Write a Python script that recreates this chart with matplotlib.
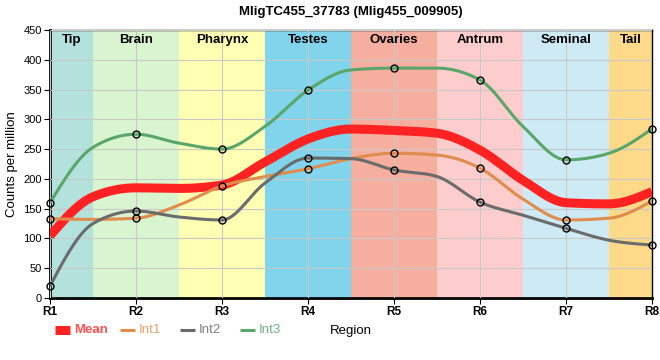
import numpy as np
import matplotlib
matplotlib.use('Agg')
import matplotlib.pyplot as plt
from matplotlib.lines import Line2D

plt.rcParams['font.family'] = ['Liberation Sans', 'DejaVu Sans']

regions = ['R1', 'R2', 'R3', 'R4', 'R5', 'R6', 'R7', 'R8']
int1 = [133, 134, 188, 217, 243, 218, 131, 163]
int2 = [20, 146, 131, 235, 215, 161, 117, 89]
int3 = [160, 275, 250, 349, 386, 366, 232, 284]
# curve values read at the tissue boundaries (between R1|R2, R2|R3, ...)
int1_edge = [132, 156, 204, 234, 240, 166, 134]
int2_edge = [125, 136, 193, 234, 204, 139, 97]
int3_edge = [253, 260, 288, 383, 386, 288, 243]
mean = [(a + b + c) / 3 for a, b, c in zip(int1, int2, int3)]
mean_edge = [(a + b + c) / 3 for a, b, c in zip(int1_edge, int2_edge, int3_edge)]

tissues = ['Tip', 'Brain', 'Pharynx', 'Testes', 'Ovaries', 'Antrum', 'Seminal', 'Tail']
tissue_cols = ['#b3e2dd', '#d9f5cf', '#ffffb3', '#80d4eb', '#f6ae9f', '#fdcdcd', '#cdeaf5', '#fdd98a']


def monotone(x, y, n=30):
    # monotone cubic curve through the points (same rule as d3 curveMonotoneX)
    x = np.asarray(x, float)
    y = np.asarray(y, float)
    h = np.diff(x)
    s = np.diff(y) / h
    m = np.zeros(len(x))
    for i in range(1, len(x) - 1):
        p = (s[i - 1] * h[i] + s[i] * h[i - 1]) / (h[i - 1] + h[i])
        m[i] = (np.sign(s[i - 1]) + np.sign(s[i])) * min(abs(s[i - 1]), abs(s[i]), 0.5 * abs(p))
    m[0] = (3 * s[0] - m[1]) / 2
    m[-1] = (3 * s[-1] - m[-2]) / 2
    xs, ys = [], []
    for i in range(len(x) - 1):
        t = np.linspace(0, 1, n)
        h00 = 2 * t**3 - 3 * t**2 + 1
        h10 = t**3 - 2 * t**2 + t
        h01 = -2 * t**3 + 3 * t**2
        h11 = t**3 - t**2
        xs.append(x[i] + t * h[i])
        ys.append(h00 * y[i] + h10 * h[i] * m[i] + h01 * y[i + 1] + h11 * h[i] * m[i + 1])
    return np.concatenate(xs), np.concatenate(ys)


def merge(vals, edge):
    out = []
    for i in range(len(edge)):
        out += [vals[i], edge[i]]
    return out + [vals[-1]]


xpos = np.arange(len(regions))
xfine = np.arange(0, len(regions) - 0.75, 0.5)

fig = plt.figure(figsize=(6.6, 3.6), dpi=100)
ax = fig.add_axes([50 / 660, 1 - 298 / 360, 602 / 660, 268 / 360])

edges = [0, 0.5, 1.5, 2.5, 3.5, 4.5, 5.5, 6.5, 7]
for i, name in enumerate(tissues):
    ax.axvspan(edges[i], edges[i + 1], color=tissue_cols[i], lw=0, zorder=0)
    ax.text((edges[i] + edges[i + 1]) / 2, 443, name, ha='center', va='top',
            fontsize=9.5, fontweight='bold', zorder=5)

ax.grid(True, color='#c8c8c8', lw=0.8, zorder=1)
ax.set_axisbelow(False)

series = [('Mean', mean, mean_edge, '#ff2222', 6.5, False),
          ('Int1', int1, int1_edge, '#e08c4c', 2.2, True),
          ('Int2', int2, int2_edge, '#6b6b6b', 2.2, True),
          ('Int3', int3, int3_edge, '#5aa66a', 2.2, True)]
for name, vals, edge, col, lw, mk in series:
    cx, cy = monotone(xfine, merge(vals, edge))
    ax.plot(cx, cy, color=col, lw=lw, solid_capstyle='butt', zorder=3)
for name, vals, edge, col, lw, mk in series:
    if mk:
        ax.plot(xpos, vals, 'o', ms=5, mfc='none', mec='black', mew=1, zorder=4, clip_on=False)

ax.set_xlim(0, 7)
ax.set_ylim(0, 450)
ax.set_xticks(xpos)
ax.set_xticklabels(regions, fontweight='bold', fontsize=8.5)
ax.set_yticks(np.arange(0, 451, 50))
ax.tick_params(axis='y', labelsize=8, length=4, pad=2)
ax.tick_params(axis='x', length=4, pad=2)
for s in ['left', 'bottom']:
    ax.spines[s].set_linewidth(2)
for s in ['top', 'right']:
    ax.spines[s].set_linewidth(1)
ax.set_ylabel('Counts per million', fontsize=9.5, labelpad=4)
ax.set_xlabel('Region', fontsize=9.5, labelpad=5)
ax.set_title('MligTC455_37783 (Mlig455_009905)', fontsize=9.5, fontweight='bold', pad=11)

# legend row below the axis
leg_text_cols = ['#ff5050', '#e8a070', '#808080', '#70b080']
leg_x = [55, 120, 180, 240]
for (name, vals, edge, col, lw, mk), tc, x0 in zip(series, leg_text_cols, leg_x):
    y = 1 - 330 / 360
    fig.add_artist(Line2D([x0 / 660, (x0 + 15) / 660], [y, y], color=col,
                          lw=lw if name == 'Mean' else 2.2, solid_capstyle='butt'))
    fig.text((x0 + 19) / 660, y, name, color=tc, fontsize=9.5, va='center', ha='left',
             fontweight='bold' if name == 'Mean' else 'normal')

fig.savefig('out.png', dpi=100)
